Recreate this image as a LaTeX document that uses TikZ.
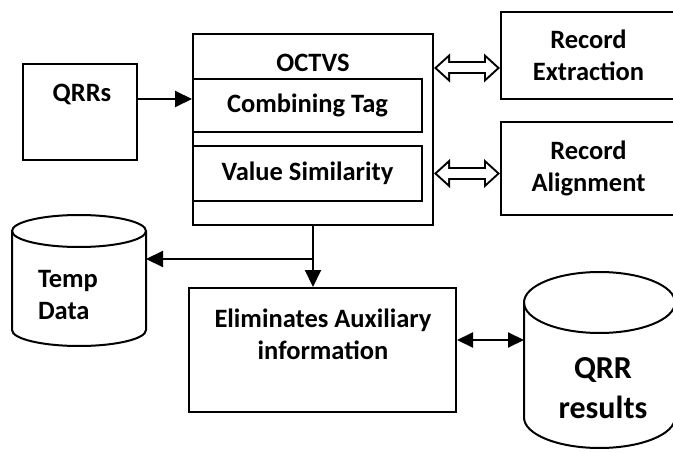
\documentclass[tikz,border=0pt]{standalone}
\usepackage{fontspec}
\setmainfont{Carlito}
\usetikzlibrary{arrows.meta}

\begin{document}
\begin{tikzpicture}[x=1pt, y=1pt, line width=2pt,
	box/.style = {draw, rectangle, inner sep=0pt},
	db/.style = {rectangle, inner sep=0pt, outer sep=0pt},
	txt/.style = {font=\bfseries\fontsize{26.5}{32}\selectfont, align=center, inner sep=0pt},
	bigtxt/.style = {font=\bfseries\fontsize{32}{40}\selectfont, align=center, inner sep=0pt},
	arr/.style = {-{Triangle[length=17pt,width=16pt]}},
	darr/.style = {{Triangle[length=16pt,width=15pt]}-{Triangle[length=16pt,width=15pt]}},
	hollow/.style = {line width=13pt, {Triangle[length=16pt,width=28pt]}-{Triangle[length=16pt,width=28pt]},
		postaction={draw=white, line width=9pt, shorten <=3pt, shorten >=3pt,
			{Triangle[length=11pt,width=19.2pt]}-{Triangle[length=11pt,width=19.2pt]}}}]

	\useasboundingbox (0,0) rectangle (673,451);

	% input
	\node[box, minimum width=114pt, minimum height=96pt] (qrrs) at (80,339) {};
	\node[txt] (qrrstxt) at (82,357) {QRRs};

	% OCTVS block
	\node[box, minimum width=240pt, minimum height=191pt] (octvs) at (313,321.5) {};
	\node[txt] (octvstxt) at (313,388) {OCTVS};
	\node[box, txt, minimum width=229pt, minimum height=53pt] (comb) at (307.5,345.5) {Combining Tag};
	\node[box, txt, minimum width=229pt, minimum height=55pt] (value) at (307.5,277.5) {Value Similarity};

	% record steps
	\node[box, txt, minimum width=175pt, minimum height=87pt] (recext) at (588.5,395.5) {Record\\Extraction};
	\node[box, txt, minimum width=175pt, minimum height=93pt] (recali) at (588.5,282.5) {Record\\Alignment};

	% storage
	\node[db, minimum width=134pt, minimum height=131pt] (tmp) at (79,170.5) {};
	\draw ([yshift=-16pt]tmp.north west) -- ([yshift=16pt]tmp.south west)
		arc[start angle=180, end angle=360, x radius=67pt, y radius=16pt] -- ([yshift=-16pt]tmp.north east);
	\draw ([yshift=-16pt]tmp.north) ellipse[x radius=67pt, y radius=16pt];
	\node[txt, align=left, anchor=west] (tmptxt) at (37,155.5) {Temp\\Data};

	\node[db, minimum width=151pt, minimum height=176pt] (res) at (599.5,91) {};
	\draw ([yshift=-30.5pt]res.north west) -- ([yshift=30.5pt]res.south west)
		arc[start angle=180, end angle=360, x radius=75.5pt, y radius=30.5pt] -- ([yshift=-30.5pt]res.north east);
	\draw ([yshift=-30.5pt]res.north) ellipse[x radius=75.5pt, y radius=30.5pt];
	\node[bigtxt] (restxt) at (603,63) {QRR\\results};

	% output
	\node[box, minimum width=267pt, minimum height=124pt] (elim) at (322.5,101) {};
	\node[txt] (elimtxt) at (323,117) {Eliminates Auxiliary\\information};

	\draw[arr] ([yshift=13pt]qrrs.east) -- ([yshift=13pt]qrrs.east -| octvs.west);
	\draw[hollow] ([yshift=-12.5pt]recext.west -| octvs.east) -- ([yshift=-12.5pt]recext.west);
	\draw[hollow] (value.east -| octvs.east) -- (value.east -| recali.west);
	\draw[arr] (octvs.south) -- (octvs.south |- elim.north);
	\coordinate (split) at ([yshift=-33pt]octvs.south);
	\draw[arr] (split) -- (split -| tmp.east);
	\draw[darr] ([yshift=10pt]elim.east) -- ([yshift=10pt]elim.east -| res.west);
\end{tikzpicture}
\end{document}
